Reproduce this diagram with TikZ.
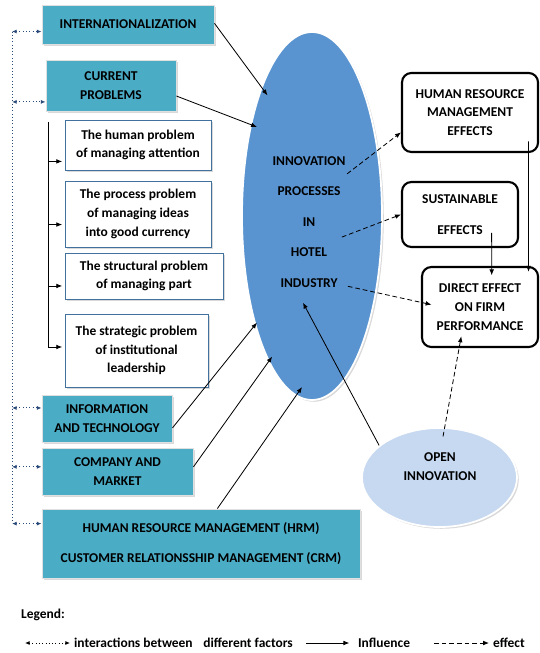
\documentclass[tikz,border=0pt]{standalone}
\usepackage{fontspec}
\setmainfont{Carlito}
\usetikzlibrary{shapes.geometric, arrows.meta, shadows}
\definecolor{boxteal}{HTML}{4BACC6}
\definecolor{ovalblue}{HTML}{5A94D0}
\definecolor{openblue}{HTML}{C6D9F0}
\definecolor{probframe}{HTML}{41719C}
\definecolor{dotnavy}{HTML}{2A4A7A}
\begin{document}
\begin{tikzpicture}[x=0.03cm, y=-0.03cm,
            every node/.style={font=\bfseries\fontsize{11.5}{16}\selectfont, align=center},
            factor/.style={rectangle, fill=boxteal, draw=white!88!black, line width=0.8pt, inner sep=0pt,
                drop shadow={opacity=0.3, shadow xshift=1.5pt, shadow yshift=-1.5pt}},
            problem/.style={rectangle, fill=white, draw=probframe, line width=0.8pt, inner sep=0pt,
                drop shadow={opacity=0.3, shadow xshift=1.5pt, shadow yshift=-1.5pt}},
            effectbox/.style={rectangle, rounded corners=8pt, fill=white, draw, line width=1.8pt, inner sep=0pt},
            influence/.style={-{Latex[length=5pt, width=4pt]}, line width=0.7pt},
            effectline/.style={influence, dash pattern=on 4pt off 2.5pt},
            interact/.style={{Latex[length=4pt, width=3.5pt]}-{Latex[length=4pt, width=3.5pt]}, dotted, dotnavy, line width=0.8pt}]
            \useasboundingbox (0, 0) rectangle (539, 653);
            \node [factor, minimum width=5.16cm, minimum height=1.17cm] (intl) at (128, 24.5) {INTERNATIONALIZATION};
            \node [factor, minimum width=3.9cm, minimum height=1.53cm] (curr) at (111, 85.5) {CURRENT\\PROBLEMS};
            \node [problem, minimum width=4.38cm, minimum height=1.5cm] (hum) at (138, 145) {The human problem\\of managing attention};
            \node [problem, minimum width=4.38cm, minimum height=1.98cm] (proc) at (138, 214) {The process problem\\of managing ideas\\into good currency};
            \node [problem, minimum width=4.74cm, minimum height=1.38cm] (struc) at (144, 276) {The structural problem\\of managing part};
            \node [problem, minimum width=4.29cm, minimum height=2.19cm] (strat) at (136.5, 350.5) {The strategic problem\\of institutional\\leadership};
            \node [factor, minimum width=3.9cm, minimum height=1.41cm] (info) at (107, 418.5) {INFORMATION\\AND TECHNOLOGY};
            \node [factor, minimum width=4.53cm, minimum height=1.41cm] (comp) at (117.5, 471.5) {COMPANY AND\\MARKET};
            \node [factor, minimum width=9.54cm, minimum height=2.07cm] (hrm) at (201, 543.5) {HUMAN RESOURCE MANAGEMENT (HRM)\\[10pt]CUSTOMER RELATIONSSHIP MANAGEMENT (CRM)};
            \node [ellipse, fill=ovalblue, draw=white, line width=1.5pt, inner sep=0pt, minimum width=4.2cm, minimum height=11.04cm,
                drop shadow={opacity=0.3, shadow xshift=1.5pt, shadow yshift=-1.5pt}] (innov) at (312, 216) {};
            \node (innovtxt) at (309, 222) {INNOVATION\\[10pt]PROCESSES\\[10pt]IN\\[10pt]HOTEL\\[10pt]INDUSTRY};
            \node [effectbox, minimum width=4.08cm, minimum height=2.37cm] (hrme) at (470, 112.5) {HUMAN RESOURCE\\MANAGEMENT\\EFFECTS};
            \node [effectbox, minimum width=3.48cm, minimum height=1.95cm] (sust) at (460, 214.5) {SUSTAINABLE\\[10pt]EFFECTS};
            \node [effectbox, minimum width=3.48cm, minimum height=2.4cm] (direct) at (480, 307) {DIRECT EFFECT\\ON FIRM\\PERFORMANCE};
            \node [ellipse, fill=openblue, draw=white, line width=1.5pt, inner sep=0pt, minimum width=4.65cm, minimum height=2.97cm,
                drop shadow={opacity=0.3, shadow xshift=1.5pt, shadow yshift=-1.5pt}] (open) at (439.5, 477.5) {};
            \node (opentxt) at (440, 466.5) {OPEN\\INNOVATION};
            \coordinate (spine) at (12, 30);
            \coordinate (brtop) at (48, 122);
            \draw [dotted, dotnavy, line width=0.8pt] ([yshift=-6pt]intl.west -| spine) -- ([yshift=17pt]hrm.west -| spine);
            \draw [interact] ([yshift=-6pt]intl.west -| spine) -- ([yshift=-6pt]intl.west);
            \draw [interact] ([yshift=-14pt]curr.west -| spine) -- ([yshift=-14pt]curr.west);
            \draw [interact] ([yshift=9pt]info.west -| spine) -- ([yshift=9pt]info.west);
            \draw [interact] ([yshift=4pt]comp.west -| spine) -- ([yshift=4pt]comp.west);
            \draw [interact] ([yshift=17pt]hrm.west -| spine) -- ([yshift=17pt]hrm.west);
            \draw [influence, shorten >=2pt] (brtop) |- ([yshift=3pt]strat.west);
            \draw [influence, shorten >=2pt] ([yshift=-14pt]hum.west -| brtop) -- ([yshift=-14pt]hum.west);
            \draw [influence, shorten >=2pt] ([yshift=-9pt]proc.west -| brtop) -- ([yshift=-9pt]proc.west);
            \draw [influence, shorten >=2pt] ([yshift=-8.5pt]struc.west -| brtop) -- ([yshift=-8.5pt]struc.west);
            \draw [influence] ([yshift=1pt]intl.east) -- ([xshift=-38pt, yshift=103pt]innov.center);
            \draw [influence] ([yshift=-9pt]curr.east) -- ([xshift=-47pt, yshift=76pt]innov.center);
            \draw [influence] ([yshift=-8pt]info.east) -- ([xshift=-47pt, yshift=-91pt]innov.center);
            \draw [influence] ([yshift=4pt]comp.east) -- ([xshift=-34pt, yshift=-120pt]innov.center);
            \draw [influence] ([xshift=14pt]hrm.north) -- ([xshift=-8.5pt, yshift=-146pt]innov.center);
            \draw [influence] (open.152) -- ([xshift=-7.7pt, yshift=-74pt]innov.center);
            \draw [effectline] ([xshift=30pt, yshift=36pt]innov.center) -- ([yshift=-17pt]hrme.west);
            \draw [effectline] ([xshift=25.5pt, yshift=-18pt]innov.center) -- (sust.west);
            \draw [effectline] ([xshift=30.6pt, yshift=-60pt]innov.center) -- ([xshift=9pt, yshift=2pt]direct.west);
            \draw [influence] ([xshift=-9pt, yshift=10pt]hrme.south east) -- ([xshift=-9pt, yshift=-5pt]direct.north east);
            \draw [influence] ([xshift=27pt, yshift=13pt]sust.south) -- ([xshift=10pt, yshift=-8pt]direct.north);
            \draw [effectline] ([xshift=3pt, yshift=-8pt]open.north) -- ([xshift=-16pt, yshift=10pt]direct.south);
            \node [anchor=west] (legtitle) at (17, 615) {Legend:};
            \node [anchor=west] (legint) at (70, 643) {interactions between\hspace{9pt}different factors};
            \node [anchor=west] (leginf) at (354, 643) {Influence};
            \node [anchor=west] (legeff) at (489, 643) {effect};
            \coordinate (legstart) at (25, 643);
            \draw [interact, black] (legstart) -- (legint.west);
            \draw [influence] ([xshift=8pt]legint.east) -- ([xshift=-4pt]leginf.west);
            \draw [effectline] ([xshift=17pt]leginf.east) -- (legeff.west);
        \end{tikzpicture}
\end{document}
